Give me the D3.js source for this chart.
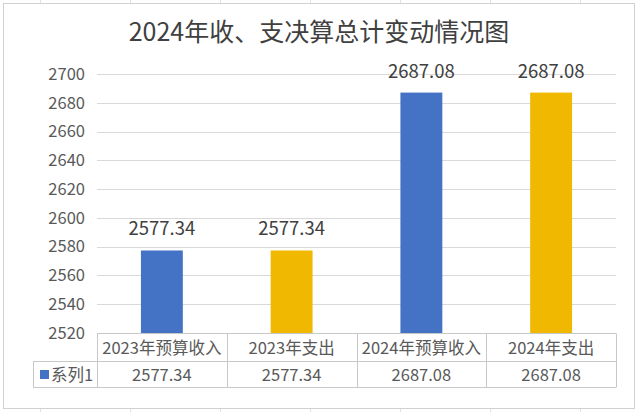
<!DOCTYPE html>
<html>
<head>
<meta charset="utf-8">
<script src="https://cdn.jsdelivr.net/npm/d3@7"></script>
<style>
  html, body { margin: 0; padding: 0; background: #fff; }
  svg { display: block; font-family: "Noto Sans CJK SC", "Noto Sans", sans-serif; }
</style>
</head>
<body>
<svg id="chart" width="640" height="412"></svg>
<script>
// Chart data
const title = "2024年收、支决算总计变动情况图";
const categories = ["2023年预算收入", "2023年支出", "2024年预算收入", "2024年支出"];
const values = [2577.34, 2577.34, 2687.08, 2687.08];
const barColors = ["#4472C4", "#F0B800", "#4472C4", "#F0B800"];
const seriesName = "系列1";
const yTicks = [2520, 2540, 2560, 2580, 2600, 2620, 2640, 2660, 2680, 2700];

const svg = d3.select("#chart");
const W = 640, H = 412;

// Worksheet cell grid behind the chart object
const sheetCols = d3.range(40, W, 90);
svg.append("g").selectAll("line").data(sheetCols).join("line")
  .attr("x1", d => d + 0.5).attr("x2", d => d + 0.5)
  .attr("y1", 0).attr("y2", H)
  .attr("stroke", "#e1e1e1");

// Chart object frame
svg.append("rect")
  .attr("x", 3.5).attr("y", 3.5).attr("width", 631).attr("height", 405)
  .attr("fill", "#fff").attr("stroke", "#d0d0d0");

// Title
svg.append("text")
  .attr("x", 319).attr("y", 41)
  .attr("text-anchor", "middle")
  .attr("font-size", 25)
  .attr("fill", "#404040")
  .text(title);

// Plot area
const plot = { left: 97, right: 616, top: 74, bottom: 333 };

const x = d3.scaleBand()
  .domain(categories)
  .range([plot.left, plot.right])
  .paddingInner(0.677).paddingOuter(0.3385);

const y = d3.scaleLinear()
  .domain([2520, 2700])
  .range([plot.bottom, plot.top]);

// Horizontal gridlines
svg.append("g").selectAll("line").data(yTicks.slice(1)).join("line")
  .attr("x1", plot.left).attr("x2", plot.right)
  .attr("y1", d => Math.round(y(d)) + 0.5).attr("y2", d => Math.round(y(d)) + 0.5)
  .attr("stroke", "#d9d9d9");

// Value axis labels
const yAxis = d3.axisLeft(y).tickValues(yTicks).tickFormat(d3.format("d")).tickSize(0).tickPadding(12);
const yg = svg.append("g").attr("transform", `translate(${plot.left},0)`).call(yAxis);
yg.select(".domain").remove();
yg.selectAll("text")
  .attr("font-size", 16.5)
  .attr("font-family", "'Noto Sans CJK SC', 'Noto Sans', sans-serif")
  .attr("fill", "#595959");

// Bars
svg.append("g").selectAll("rect").data(values).join("rect")
  .attr("x", (d, i) => x(categories[i]))
  .attr("width", x.bandwidth())
  .attr("y", d => y(d))
  .attr("height", d => plot.bottom - y(d))
  .attr("fill", (d, i) => barColors[i]);

// Data labels above bars
svg.append("g").selectAll("text").data(values).join("text")
  .attr("x", (d, i) => x(categories[i]) + x.bandwidth() / 2)
  .attr("y", d => y(d) - 15)
  .attr("text-anchor", "middle")
  .attr("font-size", 18.5)
  .attr("fill", "#404040")
  .text(d => d.toFixed(2));

// Data table under the axis
const step = x.step();
const colX = categories.map(c => x(c) - x.paddingInner() * step / 2);
const tbl = { legendLeft: 33, top: 333.5, mid: 361.5, bottom: 387.5 };
const tg = svg.append("g").attr("stroke", "#c8c8c8").attr("fill", "none");

// header row top, row divider, bottom
tg.append("line").attr("x1", plot.left).attr("x2", plot.right).attr("y1", tbl.top).attr("y2", tbl.top);
tg.append("line").attr("x1", tbl.legendLeft).attr("x2", plot.right).attr("y1", tbl.mid).attr("y2", tbl.mid);
tg.append("line").attr("x1", tbl.legendLeft).attr("x2", plot.right).attr("y1", tbl.bottom).attr("y2", tbl.bottom);
// legend cell left edge
tg.append("line").attr("x1", tbl.legendLeft + 0.5).attr("x2", tbl.legendLeft + 0.5).attr("y1", tbl.mid).attr("y2", tbl.bottom);
// column separators
tg.selectAll("line.col").data(colX.concat([plot.right])).join("line")
  .attr("class", "col")
  .attr("x1", d => Math.round(d) + 0.5).attr("x2", d => Math.round(d) + 0.5)
  .attr("y1", tbl.top).attr("y2", tbl.bottom);

// header labels
svg.append("g").selectAll("text").data(categories).join("text")
  .attr("x", d => x(d) + x.bandwidth() / 2)
  .attr("y", (tbl.top + tbl.mid) / 2 + 6)
  .attr("text-anchor", "middle")
  .attr("font-size", 16.5)
  .attr("fill", "#595959")
  .text(d => d);

// value row
svg.append("g").selectAll("text").data(values).join("text")
  .attr("x", (d, i) => x(categories[i]) + x.bandwidth() / 2)
  .attr("y", (tbl.mid + tbl.bottom) / 2 + 6)
  .attr("text-anchor", "middle")
  .attr("font-size", 16.5)
  .attr("fill", "#595959")
  .text(d => d.toFixed(2));

// legend key in the first column
svg.append("rect")
  .attr("x", 40).attr("y", 370).attr("width", 9).attr("height", 9)
  .attr("fill", barColors[0]);
svg.append("text")
  .attr("x", 51).attr("y", (tbl.mid + tbl.bottom) / 2 + 6)
  .attr("font-size", 16.5)
  .attr("fill", "#595959")
  .text(seriesName);
</script>
</body>
</html>
